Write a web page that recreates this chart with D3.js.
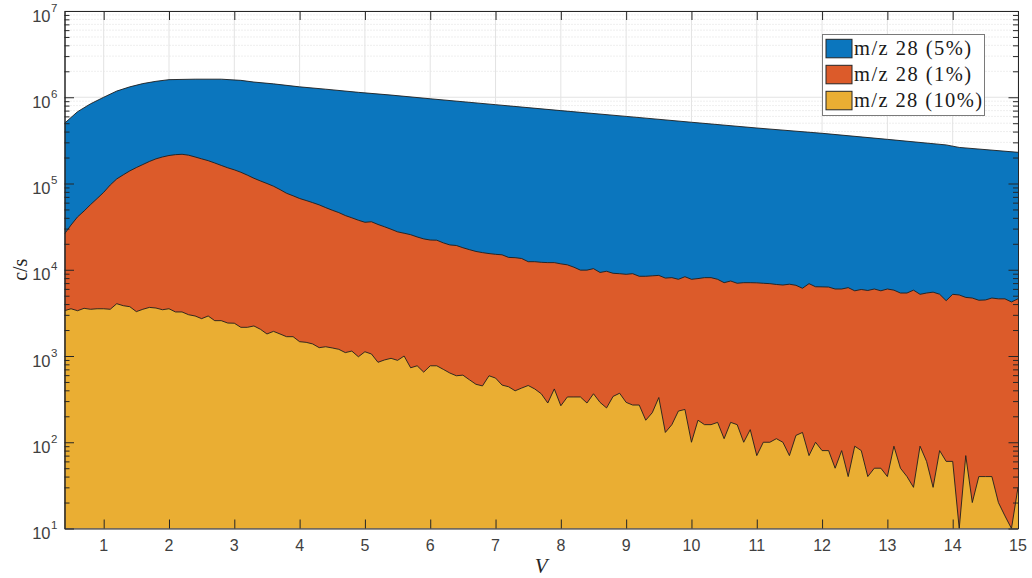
<!DOCTYPE html>
<html><head><meta charset="utf-8">
<script src="https://cdn.jsdelivr.net/npm/d3@7"></script>
<style>body{margin:0;background:#fff}svg{display:block}</style>
</head><body><svg id="c" width="1032" height="578"></svg>
<script>
// ---- data ----
const voltage = d3.range(147).map(i => +(0.4 + i * 0.1).toFixed(1)); // 0.4 .. 15.0 V

const blueV = [0.4, 0.6, 0.8, 1.0, 1.2, 1.4, 1.6, 1.8, 2.0, 2.4, 2.8, 3.1, 3.3, 3.6, 4.0, 4.4, 4.9, 5.4, 6, 7, 8, 9, 10, 11, 12, 13, 13.9, 14.1, 15];
const blueCounts = [499000, 680000, 840000, 1000000, 1180000, 1320000, 1440000, 1530000, 1600000, 1620000, 1620000, 1570000, 1500000, 1430000, 1320000, 1240000, 1140000, 1060000, 960000, 820000, 700000, 600000, 513000, 440000, 382000, 325000, 280000, 262000, 230000];

const orangeCounts = [
  26000, 33000, 41000, 48000, 57000, 67000,
  79000, 96000, 113000, 126000, 140000, 153000, 166000, 180000, 193000, 203000,
  211000, 216000, 218000, 213000, 203000, 193000, 184000, 173000, 162000, 152000,
  144000, 135000, 125000, 115000, 107000, 100000, 93000, 85000, 77000, 72000,
  67000, 63500, 60000, 56500, 52500, 49000, 46000, 42500, 40000, 37500,
  35500, 36000, 33500, 31500, 29500, 27500, 26500, 25500, 24000, 22800,
  22100, 22000, 20500, 19400, 19100, 18000, 17100, 16300, 15800, 15400,
  15100, 14900, 13900, 13800, 13500, 12400, 12400, 12200, 12100, 12100,
  11700, 11400, 10700, 9900, 9900, 10300, 9300, 9600, 9100, 9000,
  8850, 9000, 8400, 8400, 8500, 8600, 8000, 8100, 7750, 8300,
  7750, 7900, 8100, 8100, 7750, 7080, 7400, 6970, 7080, 7080,
  7050, 6970, 6900, 6750, 6650, 6800, 6600, 6100, 6900, 6350,
  6330, 6300, 5980, 5980, 6200, 5700, 5900, 5750, 5980, 5700,
  5980, 5800, 5370, 5370, 5800, 5190, 5370, 5500, 5200, 4380,
  5190, 5100, 4780, 4700, 4430, 4460, 4700, 4600, 4600, 4230,
  4600];

const yellowCounts = [
  3350, 3530, 3350, 3570, 3480, 3530,
  3530, 3480, 4040, 3830, 3730, 3270, 3480, 3660, 3600, 3440,
  3530, 3240, 3240, 3010, 2910, 2710, 2910, 2570, 2570, 2410,
  2400, 2150, 2150, 2230, 2040, 1800, 1930, 1800, 1675, 1675,
  1465, 1440, 1380, 1250, 1280, 1240, 1195, 1095, 1140, 980,
  1120, 1055, 845, 900, 940, 890, 1000, 730, 770, 650,
  770, 770, 700, 635, 590, 600, 530, 470, 450, 590,
  555, 460, 440, 395, 425, 455, 415, 365, 285, 415,
  265, 335, 335, 335, 285, 365, 290, 250, 340, 370,
  290, 270, 270, 180, 220, 330, 130, 160, 230, 240,
  100, 180, 160, 160, 170, 110, 170, 160, 100, 140,
  70, 100, 100, 110, 100, 70, 120, 130, 70, 100,
  80, 80, 50, 80, 40, 90, 80, 40, 50, 50,
  40, 90, 50, 40, 30, 90, 60, 30, 80, 60,
  60, 10, 70, 20, 40, 40, 40, 20, 14, 10,
  30];

const seriesNames = ["m/z 28 (5%)", "m/z 28 (1%)", "m/z 28 (10%)"];
const seriesColors = ["#0b76be", "#dc5b2a", "#eaae33"];
const xTicks = d3.range(1, 16);
const yExponents = [1, 2, 3, 4, 5, 6, 7];

// ---- layout ----
const L = 64.5, R = 1018, T = 11, B = 528.5;
const svg = d3.select("#c");
const x = d3.scaleLinear().domain([0.4, 15]).range([L, R]);
const y = d3.scaleLog().domain([10, 1e7]).range([B, T]);
const axisCol = "#262626";

svg.append("rect").attr("width", 1032).attr("height", 578).attr("fill", "#fff");
svg.append("defs").append("clipPath").attr("id", "clip")
  .append("rect").attr("x", L).attr("y", T).attr("width", R - L).attr("height", B - T);

// grid
const minorVals = [];
yExponents.slice(0, -1).forEach(e => { for (let m = 2; m <= 9; m++) minorVals.push(m * Math.pow(10, e)); });
const grid = svg.append("g");
grid.selectAll(".gm").data(minorVals).enter().append("line")
  .attr("x1", L).attr("x2", R).attr("y1", d => y(d)).attr("y2", d => y(d))
  .attr("stroke", "#c8c8c8").attr("stroke-width", 0.6).attr("stroke-dasharray", "1,2");
grid.selectAll(".gx").data(xTicks).enter().append("line")
  .attr("x1", d => x(d)).attr("x2", d => x(d)).attr("y1", T).attr("y2", B)
  .attr("stroke", "#e3e3e3").attr("stroke-width", 1);
grid.selectAll(".gy").data(yExponents.map(e => Math.pow(10, e))).enter().append("line")
  .attr("x1", L).attr("x2", R).attr("y1", d => y(d)).attr("y2", d => y(d))
  .attr("stroke", "#e3e3e3").attr("stroke-width", 1);

// areas
const series = [
  blueV.map((v, i) => ({ v, c: blueCounts[i] })),
  voltage.map((v, i) => ({ v, c: orangeCounts[i] })),
  voltage.map((v, i) => ({ v, c: yellowCounts[i] }))
];
const area = d3.area().x(d => x(d.v)).y0(y(10)).y1(d => y(d.c));
const line = d3.line().x(d => x(d.v)).y(d => y(d.c));
const plot = svg.append("g").attr("clip-path", "url(#clip)");
series.forEach((s, i) => {
  plot.append("path").datum(s).attr("d", area).attr("fill", seriesColors[i]);
  plot.append("path").datum(s).attr("d", line).attr("fill", "none")
    .attr("stroke", "#1e1e1e").attr("stroke-width", 0.9).attr("stroke-linejoin", "round");
});

// axes (ticks inward)
function styleAxis(g) {
  g.selectAll("path.domain").attr("stroke", axisCol).attr("stroke-width", 1);
  g.selectAll(".tick line").attr("stroke", axisCol).attr("stroke-width", 1);
  g.selectAll(".tick text").remove();
}
svg.append("g").attr("transform", `translate(0,${B})`)
  .call(d3.axisBottom(x).tickValues(xTicks).tickSizeInner(-9).tickSizeOuter(0).tickFormat(""))
  .call(styleAxis);
svg.append("g").attr("transform", `translate(0,${T})`)
  .call(d3.axisTop(x).tickValues(xTicks).tickSizeInner(-9).tickSizeOuter(0).tickFormat(""))
  .call(styleAxis);
svg.append("g").attr("transform", `translate(${L},0)`)
  .call(d3.axisLeft(y).tickValues(yExponents.map(e => Math.pow(10, e))).tickSizeInner(-9.5).tickSizeOuter(0).tickFormat(""))
  .call(styleAxis);
svg.append("g").attr("transform", `translate(${R},0)`)
  .call(d3.axisRight(y).tickValues(yExponents.map(e => Math.pow(10, e))).tickSizeInner(-9.5).tickSizeOuter(0).tickFormat(""))
  .call(styleAxis);
svg.append("g").attr("transform", `translate(${L},0)`)
  .call(d3.axisLeft(y).tickValues(minorVals).tickSizeInner(-5).tickSizeOuter(0).tickFormat(""))
  .call(styleAxis);
svg.append("g").attr("transform", `translate(${R},0)`)
  .call(d3.axisRight(y).tickValues(minorVals).tickSizeInner(-5).tickSizeOuter(0).tickFormat(""))
  .call(styleAxis);

// tick labels
const lab = svg.append("g").attr("font-family", "'Liberation Sans', Arial, sans-serif").attr("fill", "#404040");
lab.selectAll(".xl").data(xTicks).enter().append("text")
  .attr("x", d => x(d)).attr("y", B + 22).attr("text-anchor", "middle")
  .attr("font-size", 16).text(d => d);
yExponents.forEach(e => {
  const yy = y(Math.pow(10, e));
  lab.append("text").attr("x", 50.5).attr("y", yy + 10.5).attr("text-anchor", "end")
    .attr("font-size", 16.5).text("10");
  lab.append("text").attr("x", 51).attr("y", yy + 0.5).attr("text-anchor", "start")
    .attr("font-size", 11.5).text(e);
});

// axis labels
svg.append("text").attr("transform", `translate(27,${(T + B) / 2}) rotate(-90)`)
  .attr("text-anchor", "middle").attr("font-family", "'Liberation Serif', 'Times New Roman', serif")
  .attr("font-size", 20).attr("fill", "#262626").text("c/s");
svg.append("text").attr("x", (L + R) / 2).attr("y", 573).attr("text-anchor", "middle")
  .attr("font-family", "'Liberation Serif', 'Times New Roman', serif").attr("font-style", "italic")
  .attr("font-size", 21).attr("fill", "#262626").text("V");

// legend
const lg = svg.append("g");
lg.append("rect").attr("x", 822.5).attr("y", 34.5).attr("width", 162).attr("height", 81)
  .attr("fill", "#fff").attr("stroke", "#7a7a7a").attr("stroke-width", 1);
const lgLen = [117, 117, 128];
seriesNames.forEach((n, i) => {
  const cy = 48.3 + i * 26;
  lg.append("rect").attr("x", 826).attr("y", cy - 9).attr("width", 26).attr("height", 18.5)
    .attr("fill", seriesColors[i]).attr("stroke", "#262626").attr("stroke-width", 1);
  lg.append("text").attr("x", 854).attr("y", cy + 6.5)
    .attr("font-family", "'Liberation Serif', 'Times New Roman', serif").attr("font-size", 20.5)
    .attr("fill", "#1a1a1a").attr("textLength", lgLen[i]).attr("lengthAdjust", "spacing").text(n);
});
</script></body></html>
